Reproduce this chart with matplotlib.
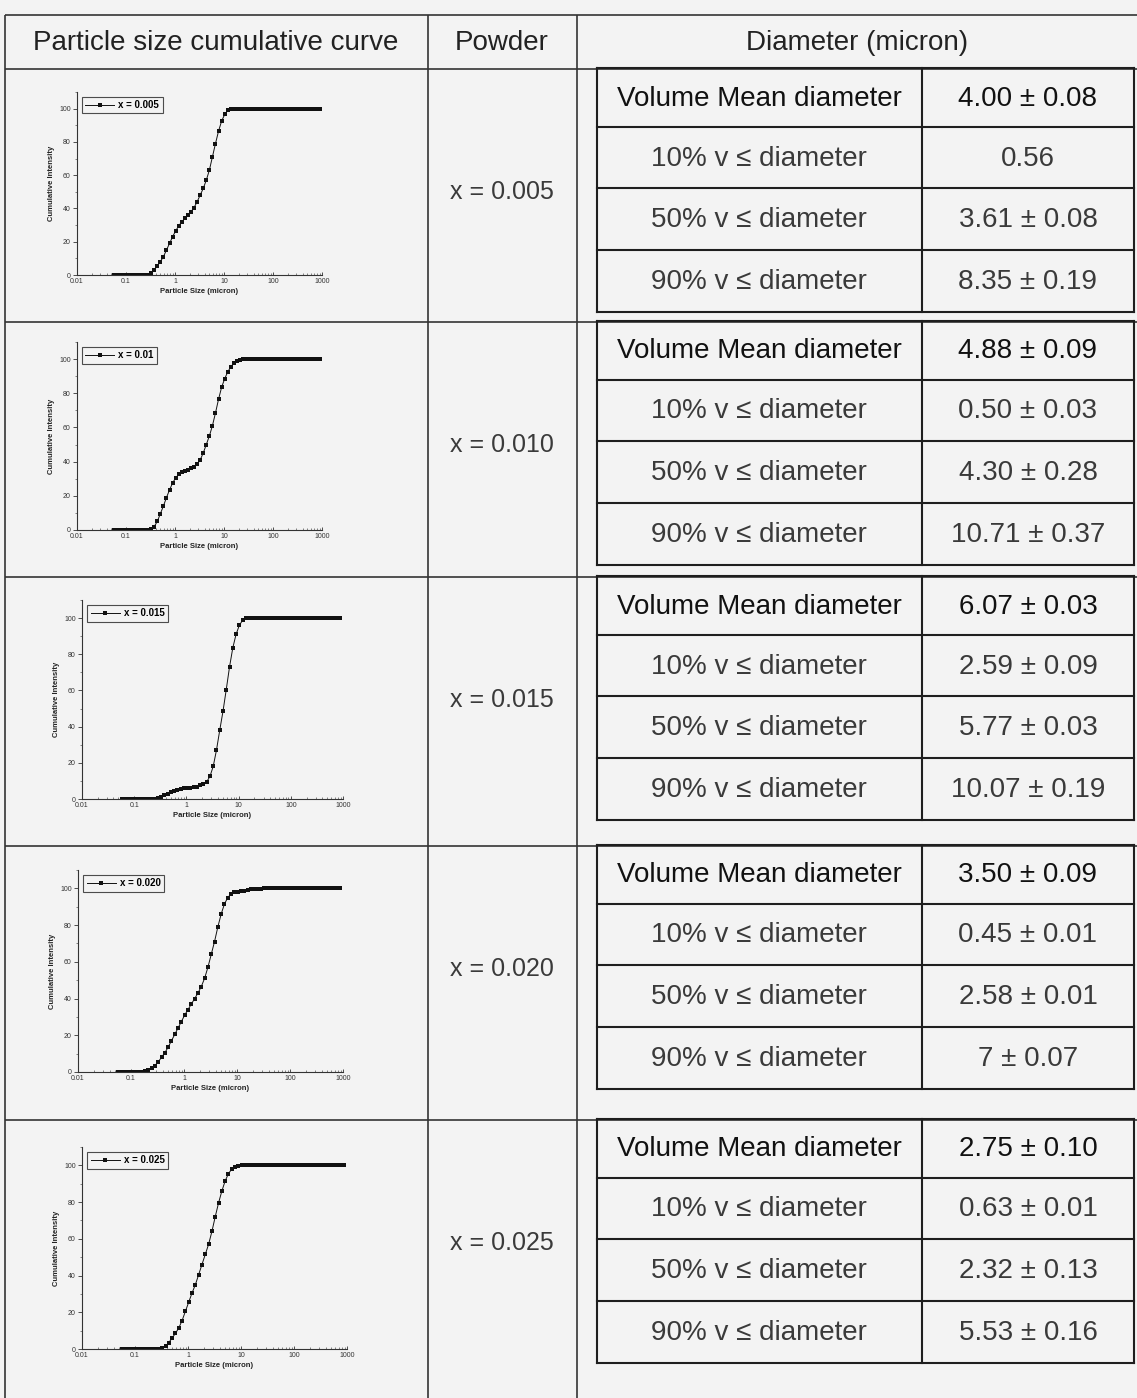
import matplotlib.pyplot as plt
from matplotlib.ticker import FixedLocator, FixedFormatter, LogLocator, MultipleLocator, NullFormatter

plt.rcParams['font.family'] = ['Liberation Sans', 'DejaVu Sans']


# Particle size bins of the analyser (micron)
size = [0.058, 0.067, 0.077, 0.089, 0.103, 0.119, 0.138, 0.159, 0.183, 0.212,
        0.245, 0.283, 0.326, 0.377, 0.435, 0.502, 0.580, 0.670, 0.774, 0.893,
        1.031, 1.191, 1.376, 1.589, 1.834, 2.118, 2.446, 2.825, 3.262, 3.767,
        4.351, 5.024, 5.802, 6.701, 7.738, 8.937, 10.32, 11.92, 13.76, 15.89,
        18.36, 21.20, 24.48, 28.27, 32.65, 37.70, 43.54, 50.28, 58.07, 67.06,
        77.44, 89.43, 103.3, 119.3, 137.7, 159.1, 183.7, 212.1, 245.0, 282.9,
        326.7, 377.3, 435.7, 503.2, 581.1, 671.1, 775.0, 895.0]

# Cumulative intensity (%) for each powder
cum_005 = [0, 0, 0, 0, 0, 0, 0, 0, 0, 0,
           0, 0.3, 1.0, 3.0, 5.5, 8.0, 11.0, 15.0, 19.0, 23.0,
           26.5, 29.5, 32.0, 34.0, 36.0, 38.0, 40.5, 44.0, 48.0, 52.0,
           57.0, 63.0, 71.0, 79.0, 86.5, 92.5, 96.5, 99.0, 99.8, 100,
           100, 100, 100, 100, 100, 100, 100, 100, 100, 100,
           100, 100, 100, 100, 100, 100, 100, 100, 100, 100,
           100, 100, 100, 100, 100, 100, 100, 100]
cum_010 = [0, 0, 0, 0, 0, 0, 0, 0, 0, 0,
           0, 0.2, 0.8, 2.0, 5.0, 9.5, 14.0, 19.0, 23.5, 27.5,
           30.5, 32.5, 33.8, 34.5, 35.2, 36.0, 37.0, 38.5, 41.0, 45.0,
           50.0, 55.0, 61.0, 68.5, 76.5, 83.5, 88.5, 92.5, 95.5, 97.5,
           99.0, 99.7, 100, 100, 100, 100, 100, 100, 100, 100,
           100, 100, 100, 100, 100, 100, 100, 100, 100, 100,
           100, 100, 100, 100, 100, 100, 100, 100]
cum_015 = [0, 0, 0, 0, 0, 0, 0, 0, 0, 0,
           0.1, 0.4, 1.0, 2.0, 3.0, 3.9, 4.6, 5.2, 5.6, 5.9,
           6.1, 6.3, 6.5, 6.9, 7.5, 8.5, 9.5, 12.5, 18.0, 27.0,
           38.0, 48.5, 60.5, 73.0, 83.5, 91.0, 96.0, 98.8, 99.8, 100,
           100, 100, 100, 100, 100, 100, 100, 100, 100, 100,
           100, 100, 100, 100, 100, 100, 100, 100, 100, 100,
           100, 100, 100, 100, 100, 100, 100, 100]
cum_020 = [0, 0, 0, 0, 0, 0, 0, 0, 0.3, 1.0,
           2.0, 3.5, 5.5, 8.0, 10.5, 13.5, 17.0, 20.5, 24.0, 27.5,
           31.0, 34.0, 37.0, 40.0, 43.0, 46.5, 51.0, 57.0, 64.0, 71.0,
           79.0, 86.0, 91.5, 95.0, 97.0, 97.8, 98.2, 98.5, 98.8, 99.1,
           99.4, 99.6, 99.8, 99.9, 100, 100, 100, 100, 100, 100,
           100, 100, 100, 100, 100, 100, 100, 100, 100, 100,
           100, 100, 100, 100, 100, 100, 100, 100]
cum_025 = [0, 0, 0, 0, 0, 0, 0, 0, 0, 0,
           0, 0.2, 0.5, 1.5, 3.5, 6.0, 8.5, 11.5, 15.5, 20.5,
           25.5, 30.5, 35.0, 40.5, 46.0, 51.5, 57.0, 64.0, 72.0, 79.5,
           86.0, 91.5, 95.5, 98.0, 99.3, 99.9, 100, 100, 100, 100,
           100, 100, 100, 100, 100, 100, 100, 100, 100, 100,
           100, 100, 100, 100, 100, 100, 100, 100, 100, 100,
           100, 100, 100, 100, 100, 100, 100, 100]
curves = [cum_005, cum_010, cum_015, cum_020, cum_025]

legend_labels = ['x = 0.005', 'x = 0.01', 'x = 0.015', 'x = 0.020', 'x = 0.025']
powders = ['x = 0.005', 'x = 0.010', 'x = 0.015', 'x = 0.020', 'x = 0.025']
headers = ['Particle size cumulative curve', 'Powder', 'Diameter (micron)']
row_labels = ['Volume Mean diameter', '10% v \u2264 diameter',
              '50% v \u2264 diameter', '90% v \u2264 diameter']
diameters = [['4.00 \u00b1 0.08', '0.56', '3.61 \u00b1 0.08', '8.35 \u00b1 0.19'],
             ['4.88 \u00b1 0.09', '0.50 \u00b1 0.03', '4.30 \u00b1 0.28', '10.71 \u00b1 0.37'],
             ['6.07 \u00b1 0.03', '2.59 \u00b1 0.09', '5.77 \u00b1 0.03', '10.07 \u00b1 0.19'],
             ['3.50 \u00b1 0.09', '0.45 \u00b1 0.01', '2.58 \u00b1 0.01', '7 \u00b1 0.07'],
             ['2.75 \u00b1 0.10', '0.63 \u00b1 0.01', '2.32 \u00b1 0.13', '5.53 \u00b1 0.16']]

x_ticks = [0.01, 0.1, 1, 10, 100, 1000]
x_ticklabels = ['0.01', '0.1', '1', '10', '100', '1000']
y_ticks = [0, 20, 40, 60, 80, 100]


# Figure in pixel units
W, H = 1137, 1398
fig = plt.figure(figsize=(W / 100, H / 100), dpi=100, facecolor='#f3f3f3')
tab = fig.add_axes([0, 0, 1, 1])
tab.set_xlim(0, W)
tab.set_ylim(H, 0)
tab.axis('off')

outer_kw = dict(color='#333333', lw=1.2, solid_capstyle='butt')
inner_kw = dict(color='#1e1e1e', lw=1.5, solid_capstyle='projecting')

# outer grid
outer_rows = [69, 322, 577, 846, 1120]
tab.plot([5, W], [15, 15], **outer_kw)
for y in outer_rows:
    tab.plot([5, W], [y, y], **outer_kw)
for x in [5, 428, 577]:
    tab.plot([x, x], [15, H], **outer_kw)

header_x = [216, 502, 857]
for hx, h in zip(header_x, headers):
    tab.text(hx, 43, h, ha='center', va='center', fontsize=20, color='#222222')

# inner tables with diameters
inner_off = [0, 59, 120, 182, 244]
for k in range(5):
    t = outer_rows[k] - 1
    ys = [t + o for o in inner_off]
    for y in ys:
        tab.plot([597, 1134], [y, y], **inner_kw)
    for x in [597, 922, 1134]:
        tab.plot([x, x], [ys[0], ys[-1]], **inner_kw)
    for j in range(4):
        yc = (ys[j] + ys[j + 1]) / 2 + 1
        col = '#111111' if j == 0 else '#3a3a3a'
        tab.text(759, yc, row_labels[j], ha='center', va='center', fontsize=20, color=col)
        tab.text(1028, yc, diameters[k][j], ha='center', va='center', fontsize=20, color=col)
    tab.text(502, (ys[0] + ys[-1]) / 2 + 2, powders[k], ha='center', va='center',
             fontsize=18, color='#3a3a3a')


# Mini cumulative curves
boxes = [(77, 92, 322, 275), (77, 342, 322, 530), (82, 600, 343, 799),
         (78, 870, 343, 1072), (82, 1147, 347, 1349)]
for k, (x0, y0, x1, y1) in enumerate(boxes):
    ax = fig.add_axes([x0 / W, 1 - y1 / H, (x1 - x0) / W, (y1 - y0) / H])
    ax.set_facecolor('none')
    ax.plot(size, curves[k], '-s', color='#111111', lw=0.7, ms=2.8, mew=0,
            label=legend_labels[k])
    ax.set_xscale('log')
    ax.set_xlim(0.01, 1000)
    ax.set_ylim(0, 110)

    ax.xaxis.set_major_locator(FixedLocator(x_ticks))
    ax.xaxis.set_major_formatter(FixedFormatter(x_ticklabels))
    ax.xaxis.set_minor_locator(LogLocator(base=10, subs=range(2, 10)))
    ax.xaxis.set_minor_formatter(NullFormatter())
    ax.yaxis.set_major_locator(FixedLocator(y_ticks))
    ax.yaxis.set_minor_locator(MultipleLocator(10))

    ax.tick_params(axis='x', which='major', direction='in', length=2.5, width=0.6,
                   labelsize=5, pad=2, colors='#333333')
    ax.tick_params(axis='x', which='minor', direction='in', length=1.3, width=0.5,
                   colors='#555555')
    ax.tick_params(axis='y', which='major', direction='out', length=3, width=0.6,
                   labelsize=5, pad=1.5, colors='#333333')
    ax.tick_params(axis='y', which='minor', direction='out', length=1.5, width=0.5,
                   colors='#555555')

    for s in ['top', 'right']:
        ax.spines[s].set_visible(False)
    for s in ['left', 'bottom']:
        ax.spines[s].set_linewidth(0.8)
        ax.spines[s].set_color('#333333')

    ax.set_xlabel('Particle Size (micron)', fontsize=5.5, fontweight='bold', labelpad=2,
                  color='#222222')
    ax.set_ylabel('Cumulative Intensity', fontsize=5.5, fontweight='bold', labelpad=3,
                  color='#222222')

    leg = ax.legend(loc='upper left', bbox_to_anchor=(0.02, 0.975), borderaxespad=0,
                    prop={'size': 7, 'weight': 'bold'}, frameon=True, fancybox=False,
                    edgecolor='#222222', facecolor='none', borderpad=0.35,
                    handlelength=3.0, handletextpad=0.4)
    leg.get_frame().set_linewidth(0.8)

fig.savefig('out.png', dpi=100, facecolor=fig.get_facecolor())
